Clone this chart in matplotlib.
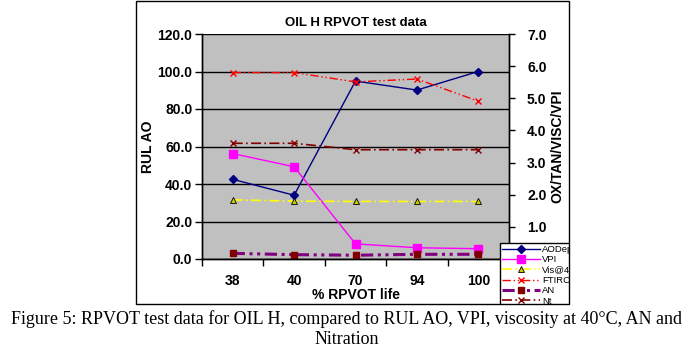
import matplotlib
matplotlib.use('Agg')
import matplotlib.pyplot as plt
from matplotlib.patches import Rectangle
import numpy as np

plt.rcParams['font.family'] = ['Liberation Sans', 'DejaVu Sans']

# data
life = ['38', '40', '70', '94', '100']
ao_depl = [42.5, 34.0, 94.9, 90.1, 100.0]        # left axis (RUL AO)
vpi = [3.28, 2.87, 0.47, 0.35, 0.32]             # right axis
vis40 = [1.84, 1.80, 1.79, 1.79, 1.79]
ftirox = [5.80, 5.80, 5.51, 5.60, 4.91]
an = [0.175, 0.135, 0.117, 0.146, 0.146]
nt = [3.60, 3.60, 3.40, 3.40, 3.40]

left_ticks = [0, 20, 40, 60, 80, 100, 120]
right_ticks = [1, 2, 3, 4, 5, 6, 7]

W, H = 691, 354
fig = plt.figure(figsize=(W / 100, H / 100), dpi=100)

ax = fig.add_axes([202 / W, 1 - 259 / H, (509 - 202) / W, (259 - 34) / H])
ax.set_facecolor('#C0C0C0')
ax2 = ax.twinx()

x = np.arange(len(life))

h1, = ax.plot(x, ao_depl, color='#000080', lw=1, marker='D', ms=3.8, label='AODepl', zorder=5)
h2, = ax2.plot(x, vpi, color='#FF00FF', lw=1, marker='s', ms=5.5, label='VPI')
h3, = ax2.plot(x, vis40, color='#FFFF00', lw=1.2, ls=(0, (6, 2, 1, 2)), marker='^', ms=4.5,
               mfc='#CCCC00', mec='black', mew=0.6, label='Vis@40°C')
h4, = ax2.plot(x, ftirox, color='#FF0000', lw=1, ls=(0, (6, 2, 1, 2, 1, 2)), marker='x', ms=4.5,
               mew=1, label='FTIROX')
h5, = ax2.plot(x, an, color='#800080', lw=2.2, ls=(0, (4, 1.5, 1, 1.5, 1, 1.5)), marker='s', ms=4.5,
               mfc='#800000', mec='#800000', label='AN')
h6, = ax2.plot(x, nt, color='#800000', lw=1.2, ls=(0, (6, 2, 1, 2)), marker='x', ms=4.5,
               mew=1, label='Nt')

ax.set_xlim(-0.5, len(life) - 0.5)
ax.set_ylim(0, 120)
ax2.set_ylim(0, 7)

ax.set_yticks(left_ticks)
ax.set_yticklabels([f'{v:.1f}' for v in left_ticks])
ax2.set_yticks(right_ticks)
ax2.set_yticklabels([f'{v:.1f}' for v in right_ticks])

ax.set_xticks(x)
ax.set_xticklabels(life)
ax.set_xticks(np.arange(-0.5, len(life)), minor=True)
ax.tick_params(axis='x', which='major', length=0, pad=11, labelsize=10)
ax.tick_params(axis='x', which='minor', length=5, width=1, direction='out')
ax.tick_params(axis='y', length=5, width=1, direction='out', pad=2, labelsize=10)
ax2.tick_params(axis='y', length=4, width=1, direction='out', pad=9, labelsize=10)
for lab in ax.get_xticklabels() + ax.get_yticklabels() + ax2.get_yticklabels():
    lab.set_fontweight('bold')

ax.grid(axis='y', color='black', lw=1)
ax.set_axisbelow(True)
for a in (ax, ax2):
    a.spines['top'].set_visible(False)
    for s in ('left', 'right', 'bottom'):
        a.spines[s].set_linewidth(1)
ax2.set_zorder(ax.get_zorder() + 1)
ax2.patch.set_visible(False)

ax.set_title('OIL H RPVOT test data', fontsize=9.5, fontweight='bold', pad=6)
ax.set_ylabel('RUL AO', fontsize=10, fontweight='bold', labelpad=2)
ax2.set_ylabel('OX/TAN/VISC/VPI', fontsize=10, fontweight='bold', labelpad=3)
ax.set_xlabel('% RPVOT life', fontsize=10, fontweight='bold', labelpad=0)

leg = ax2.legend(handles=[h1, h2, h3, h4, h5, h6], loc='upper left',
                 bbox_to_anchor=(500 / W, 1 - 243 / H), bbox_transform=fig.transFigure,
                 prop={'family': ['Liberation Sans Narrow', 'Liberation Sans'], 'size': 6.8},
                 frameon=True, fancybox=False, edgecolor='black',
                 framealpha=1, borderpad=0.2, labelspacing=0.14, handlelength=4.0,
                 handletextpad=0.25, borderaxespad=0)
leg.get_frame().set_linewidth(1)

# hide legend overflow outside the chart border
fig.patches.append(Rectangle((570 / W, 0.1), 1, 0.9, transform=fig.transFigure,
                             facecolor='white', edgecolor='none', zorder=10))
fig.patches.append(Rectangle((0, 0), 1, 1 - 305 / H, transform=fig.transFigure,
                             facecolor='white', edgecolor='none', zorder=10))
# chart border
fig.patches.append(Rectangle((136 / W, 1 - 304 / H), (569 - 136) / W, 303 / H,
                             transform=fig.transFigure, facecolor='none',
                             edgecolor='black', lw=1, zorder=11))

cap = dict(ha='center', va='center', fontsize=13, family='Liberation Serif', zorder=12)
fig.text(347 / W, 1 - 319 / H,
         'Figure 5: RPVOT test data for OIL H, compared to RUL AO, VPI, viscosity at 40°C, AN and',
         **cap)
fig.text(347 / W, 1 - 340 / H, 'Nitration', **cap)

fig.savefig('out.png', dpi=100)
